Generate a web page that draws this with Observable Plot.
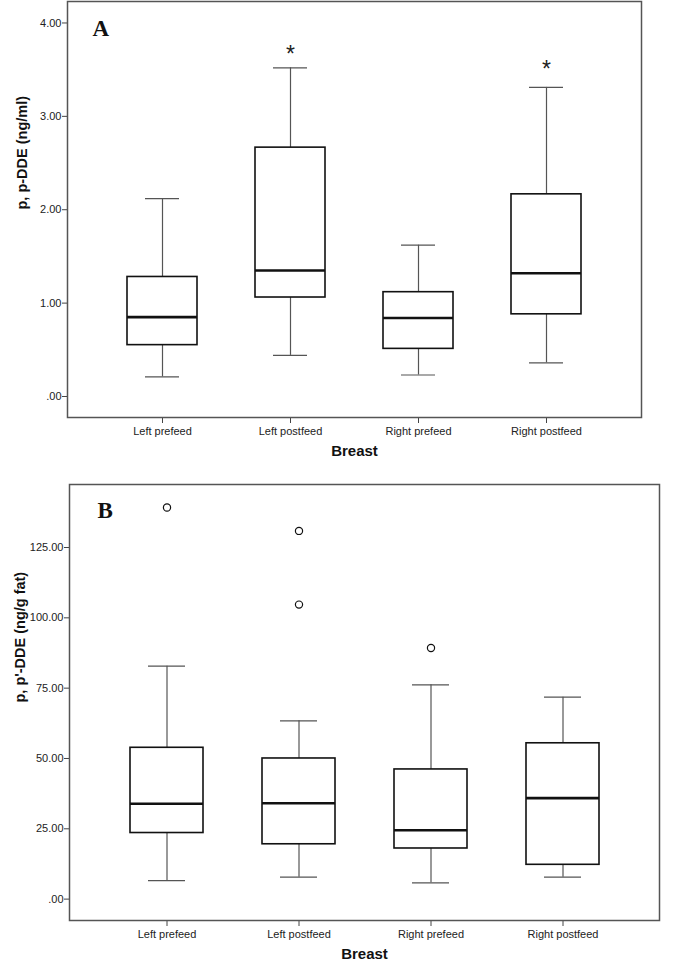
<!DOCTYPE html>
<html>
<head>
<meta charset="utf-8">
<script src="https://cdn.jsdelivr.net/npm/d3@7"></script>
<script src="https://cdn.jsdelivr.net/npm/@observablehq/plot@0.6"></script>
<style>
  html, body { margin: 0; padding: 0; background: #fff; }
  #chart svg { display: block; }
</style>
</head>
<body>
<div id="chart"></div>
<script>
// ---- data ----
const categories = ["Left prefeed", "Left postfeed", "Right prefeed", "Right postfeed"];

// Panel A: p,p-DDE (ng/ml)
const lowA  = [0.21, 0.44, 0.23, 0.36];
const q1A   = [0.55, 1.06, 0.51, 0.88];
const medA  = [0.85, 1.35, 0.84, 1.32];
const q3A   = [1.28, 2.665, 1.117, 2.165];
const highA = [2.12, 3.52, 1.62, 3.31];
const starsA = [{cat: "Left postfeed", y: 3.72}, {cat: "Right postfeed", y: 3.57}];
const ticksA = [0, 1, 2, 3, 4];

// Panel B: p,p'-DDE (ng/g fat)
const lowB  = [6.6, 7.8, 5.8, 7.8];
const q1B   = [23.5, 19.5, 18.0, 12.2];
const medB  = [33.9, 34.1, 24.5, 35.9];
const q3B   = [53.8, 50.0, 46.1, 55.4];
const highB = [82.8, 63.4, 76.2, 71.8];
const outliersB = [
  {cat: "Left prefeed", y: 139.2},
  {cat: "Left postfeed", y: 130.9},
  {cat: "Left postfeed", y: 104.7},
  {cat: "Right prefeed", y: 89.3}
];
const ticksB = [0, 25, 50, 75, 100, 125];

const fmt = d => d === 0 ? ".00" : d.toFixed(2);

function table(low, q1, med, q3, high) {
  return categories.map((cat, i) => ({cat, low: low[i], q1: q1[i], med: med[i], q3: q3[i], high: high[i]}));
}

function panel({rows, yDomain, ticks, height, marginTop, marginBottom, marginLeft, marginRight,
                letter, letterDx, letterDy, yLabel, yLabelX, stars = [], outliers = []}) {
  const font = "Liberation Sans, Arial, sans-serif";
  return Plot.plot({
    width: 675,
    height,
    marginTop, marginBottom, marginLeft, marginRight,
    style: {fontFamily: font, fontSize: "11px", color: "#222", background: "#fff", overflow: "visible"},
    x: {domain: categories, padding: 0.45, axis: null},
    y: {domain: yDomain, axis: null},
    marks: [
      Plot.axisY({ticks, tickFormat: fmt, tickSize: 5, tickPadding: 1, stroke: "#444", fontSize: 11, label: null}),
      Plot.axisX({tickSize: 6, tickPadding: 4, stroke: "#444", fontSize: 11, label: null}),
      // whiskers
      Plot.ruleX(rows, {x: "cat", y1: "low", y2: "q1", stroke: "#555", strokeWidth: 1.2}),
      Plot.ruleX(rows, {x: "cat", y1: "q3", y2: "high", stroke: "#555", strokeWidth: 1.2}),
      Plot.tickY(rows, {x: "cat", y: "low", stroke: "#555", strokeWidth: 1.2, insetLeft: 18, insetRight: 18}),
      Plot.tickY(rows, {x: "cat", y: "high", stroke: "#555", strokeWidth: 1.2, insetLeft: 18, insetRight: 18}),
      // boxes
      Plot.barY(rows, {x: "cat", y1: "q1", y2: "q3", fill: "white", stroke: "#111", strokeWidth: 1.6}),
      Plot.tickY(rows, {x: "cat", y: "med", stroke: "#111", strokeWidth: 2.6}),
      // outliers
      Plot.dot(outliers, {x: "cat", y: "y", r: 3.6, stroke: "#111", fill: "white", strokeWidth: 1.2}),
      // significance stars
      Plot.text(stars, {x: "cat", y: "y", text: () => "*", fontSize: 23, fill: "#222", dy: 6}),
      Plot.frame({stroke: "#555", strokeWidth: 1.5}),
      // panel letter
      Plot.text([letter], {frameAnchor: "top-left", textAnchor: "start", lineAnchor: "top",
        dx: letterDx, dy: letterDy, fontFamily: "Liberation Serif, serif", fontWeight: "bold", fontSize: 23, fill: "#111"}),
      // axis titles
      Plot.text([yLabel], {frameAnchor: "left", rotate: -90, dx: -marginLeft + yLabelX, fontWeight: "bold", fontSize: 14.5, fill: "#111"}),
      Plot.text(["Breast"], {frameAnchor: "bottom", dy: 38, fontWeight: "bold", fontSize: 15, fill: "#111"})
    ]
  });
}

const chart = document.getElementById("chart");
chart.append(panel({
  rows: table(lowA, q1A, medA, q3A, highA),
  yDomain: [-0.225, 4.23],
  ticks: ticksA,
  height: 468, marginTop: 1, marginBottom: 51, marginLeft: 67, marginRight: 34,
  letter: "A", letterDx: 25, letterDy: 18,
  yLabel: "p, p-DDE (ng/ml)", yLabelX: 22,
  stars: starsA
}));
chart.append(panel({
  rows: table(lowB, q1B, medB, q3B, highB),
  yDomain: [-7.6, 147.4],
  ticks: ticksB,
  height: 497, marginTop: 16, marginBottom: 45, marginLeft: 69, marginRight: 16,
  letter: "B", letterDx: 28, letterDy: 17,
  yLabel: "p, p'-DDE (ng/g fat)", yLabelX: 20,
  outliers: outliersB
}));
</script>
</body>
</html>
